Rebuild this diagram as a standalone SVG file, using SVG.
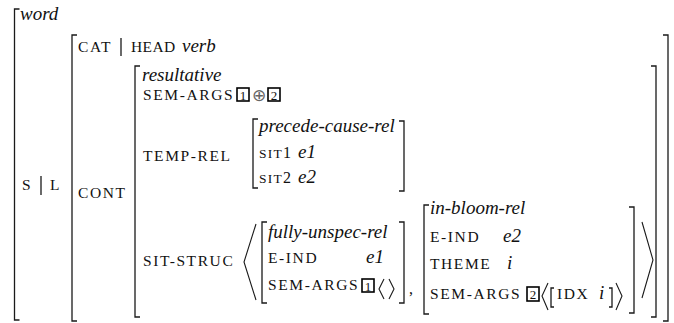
<svg xmlns="http://www.w3.org/2000/svg" width="674" height="323" viewBox="0 0 674 323">
<style>
.br{fill:none;stroke:#1a1a1a;stroke-width:1.3}
.ang{fill:none;stroke:#1a1a1a;stroke-width:1.1}
.it{font-family:"Liberation Serif",serif;font-style:italic;font-size:19px;fill:#111}
.f{font-family:"Liberation Serif",serif;font-size:15.5px;letter-spacing:1.6px;fill:#111}
.sc{font-family:"Liberation Serif",serif;font-size:13.5px;letter-spacing:1.2px;fill:#111}
.d{font-family:"Liberation Serif",serif;font-size:16px;fill:#111}
.bx{fill:none;stroke:#000;stroke-width:1.6}
.bn{font-family:"Liberation Serif",serif;font-size:13px;fill:#111;text-anchor:middle}
.op{font-family:"DejaVu Sans",sans-serif;font-size:17px;fill:#666;text-anchor:middle}
</style>
<g id="connectors">
<path class="br" d="M19.5 9 H14.5 V320 H19.5"/>
<path class="br" d="M77 35 H72 V321 H77"/>
<path class="br" d="M663 35 H668 V321 H663"/>
<path class="br" d="M140 66 H135 V317 H140"/>
<path class="br" d="M651 66 H656 V317 H651"/>
<path class="br" d="M258 119 H253 V188 H258"/>
<path class="br" d="M399 121 H404 V191 H399"/>
<path class="br" d="M267 222 H262 V303 H267"/>
<path class="br" d="M399 222 H404 V303 H399"/>
<path class="br" d="M429 205 H424 V314 H429"/>
<path class="br" d="M629 207 H634 V313 H629"/>
<path class="br" d="M554 288 H551 V307 H554"/>
<path class="br" d="M609 288 H612 V307 H609"/>
<polyline class="ang" points="256,224 244,262 256,300"/>
<polyline class="ang" points="642,222 653,260 642,298"/>
<polyline class="ang" points="384,279 379,289 384,299"/>
<polyline class="ang" points="389,279 394,289 389,299"/>
<polyline class="ang" points="548,283 542,296 548,310"/>
<polyline class="ang" points="616,283 622,296 616,310"/>
<line class="br" x1="121" y1="38" x2="121" y2="56"/>
<line class="br" x1="41" y1="176" x2="41" y2="195"/>
</g>
<g id="word"><text class="it" x="20" y="20">word</text></g>
<g id="sl">
<text class="f" x="22" y="190">S</text>
<text class="f" x="50" y="190">L</text>
</g>
<g id="cat">
<text class="f" x="78" y="52">CAT</text>
<text class="f" x="131" y="52" style="letter-spacing:0.4px">HEAD</text>
<text class="it" x="182" y="52">verb</text>
</g>
<g id="cont"><text class="f" x="78" y="198">CONT</text></g>
<g id="resultative">
<text class="it" x="142" y="81">resultative</text>
<text class="f" x="143" y="100">SEM-ARGS</text>
<rect class="bx" x="237" y="88" width="12" height="13"/>
<text class="bn" x="243" y="99.5">1</text>
<text class="op" x="259" y="100.5">⊕</text>
<rect class="bx" x="268" y="88" width="12" height="13"/>
<text class="bn" x="274" y="99.5">2</text>
<text class="f" x="143" y="161">TEMP-REL</text>
<text class="f" x="143" y="266">SIT-STRUC</text>
</g>
<g id="precede">
<text class="it" x="259" y="132">precede-cause-rel</text>
<text class="sc" x="259" y="158">SIT</text><text class="d" x="283" y="158">1</text>
<text class="it" x="298" y="158">e1</text>
<text class="sc" x="259" y="183">SIT</text><text class="d" x="283" y="183">2</text>
<text class="it" x="298" y="183">e2</text>
</g>
<g id="fully">
<text class="it" x="268" y="238">fully-unspec-rel</text>
<text class="f" x="268" y="263">E-IND</text>
<text class="it" x="366" y="263">e1</text>
<text class="f" x="268" y="290">SEM-ARGS</text>
<rect class="bx" x="362" y="279" width="12" height="13"/>
<text class="bn" x="368" y="290.5">1</text>
<text class="d" x="409" y="294">,</text>
</g>
<g id="inbloom">
<text class="it" x="430" y="214">in-bloom-rel</text>
<text class="f" x="430" y="242">E-IND</text>
<text class="it" x="503" y="242">e2</text>
<text class="f" x="430" y="269">THEME</text>
<text class="it" x="507" y="269">i</text>
<text class="f" x="430" y="299">SEM-ARGS</text>
<rect class="bx" x="527" y="287" width="12" height="14"/>
<text class="bn" x="533" y="299">2</text>
<text class="f" x="557" y="299">IDX</text>
<text class="it" x="599" y="299">i</text>
</g>
</svg>
